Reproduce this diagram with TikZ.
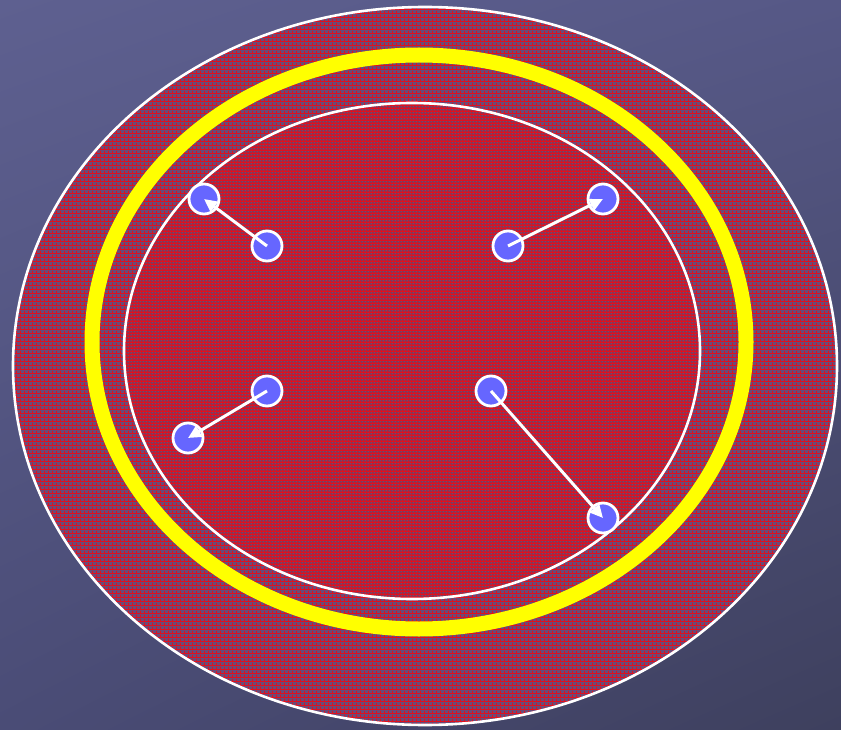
\documentclass[tikz,border=0pt]{standalone}
\usetikzlibrary{arrows.meta,shadings,patterns.meta}
\definecolor{bgUL}{HTML}{5E6090}
\definecolor{bgUR}{HTML}{565886}
\definecolor{bgLL}{HTML}{4A4C76}
\definecolor{bgLR}{HTML}{3E405E}
\definecolor{outerbase}{HTML}{6A4A78}
\definecolor{innerbase}{HTML}{7A3A60}
\definecolor{gridred}{HTML}{E0101E}
\definecolor{dotblue}{HTML}{6666FF}
\definecolor{ring}{HTML}{FFFF00}
\tikzdeclarepattern{
  name=outergrid, type=colored,
  bottom left={(0pt,0pt)}, top right={(4pt,4pt)}, tile size={(4pt,4pt)},
  code={
    \fill[gridred] (0pt,0pt) rectangle (1.2pt,4pt);
    \fill[gridred] (0pt,0pt) rectangle (4pt,1.2pt);
  }
}
\tikzdeclarepattern{
  name=innergrid, type=colored,
  bottom left={(0pt,0pt)}, top right={(3pt,3pt)}, tile size={(3pt,3pt)},
  code={
    \fill[gridred] (0pt,0pt) rectangle (1.6pt,3pt);
    \fill[gridred] (0pt,0pt) rectangle (3pt,1.6pt);
  }
}
\tikzset{
  dot/.style={circle, draw=white, line width=2.8pt, fill=dotblue, minimum size=30pt, inner sep=0pt},
  arr/.style={draw=white, line width=3pt, -{Triangle[length=13pt,width=12pt]}},
  rim/.style={draw=white, line width=2.6pt}
}
\begin{document}
\begin{tikzpicture}[x=1pt,y=-1pt]
\useasboundingbox (0,0) rectangle (841,730);
\shade[upper left=bgUL, upper right=bgUR, lower left=bgLL, lower right=bgLR] (0,0) rectangle (841,730);
% outer ellipse
\fill[outerbase] (425,366) ellipse [x radius=412, y radius=359];
\fill[pattern=outergrid] (425,366) ellipse [x radius=412, y radius=359];
\draw[rim] (425,366) ellipse [x radius=412, y radius=359];
% yellow ring
\draw[ring, line width=15pt] (419,342) ellipse [x radius=327, y radius=287];
% inner ellipse
\fill[innerbase] (412,351) ellipse [x radius=288, y radius=248];
\fill[pattern=innergrid] (412,351) ellipse [x radius=288, y radius=248];
\draw[rim] (412,351) ellipse [x radius=288, y radius=248];
% dots
\node[dot] (h1) at (204,199) {};
\node[dot] (t1) at (267,246) {};
\node[dot] (h2) at (603,199) {};
\node[dot] (t2) at (508,246) {};
\node[dot] (t3) at (267,391) {};
\node[dot] (h3) at (188,438) {};
\node[dot] (t4) at (491,391) {};
\node[dot] (h4) at (603,518) {};
% arrows
\draw[arr] (t1.center) -- (h1.center);
\draw[arr] (t2.center) -- (h2.center);
\draw[arr] (t3.center) -- (h3.center);
\draw[arr] (t4.center) -- (h4.center);
\end{tikzpicture}
\end{document}
